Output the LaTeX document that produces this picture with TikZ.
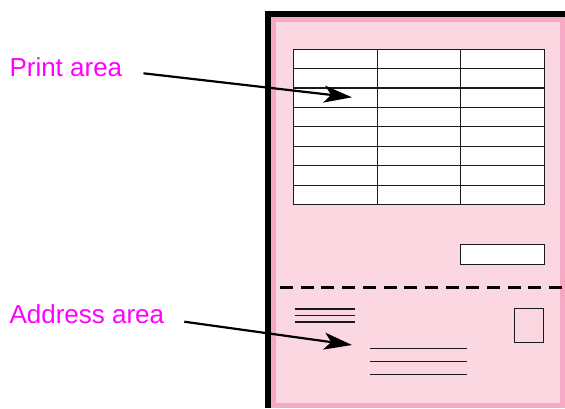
\documentclass[tikz,border=0pt]{standalone}
\usepackage{fontspec}
\setmainfont{Liberation Sans}
\usetikzlibrary{arrows.meta}
\definecolor{pagerim}{HTML}{F5A9C4}
\definecolor{pagefill}{HTML}{FAD7E1}
\definecolor{labelmag}{HTML}{FF00FF}
\definecolor{rule}{HTML}{1A1A1A}
\tikzset{
  label/.style={text=labelmag, inner sep=0pt, anchor=base west,
                font=\fontsize{26}{30}\selectfont},
  pointer/.style={line width=2.2pt, -{Stealth[length=28pt,width=17pt,inset=7pt]}},
  cell/.style={draw=rule, line width=1.1pt, fill=white},
  textrule/.style={draw=rule, line width=1.1pt},
  fold/.style={line width=3pt, dash pattern=on 13pt off 7.7pt},
}
\begin{document}
\begin{tikzpicture}[x=1pt,y=-1pt]
\useasboundingbox (0,0) rectangle (565,408);

% the sheet: rim and face
\fill[pagerim] (271,17) rectangle (565,408);
\fill[pagefill] (276,22) rectangle (560,403);
% heavy L-shaped edge
\fill[black] (265,11) rectangle (271,408);
\fill[black] (265,11) rectangle (565,17);

% table in the upper part of the sheet
\foreach \r in {0,...,7}{
  \foreach \c/\xa/\xb in {0/292.5/376.5,1/376.5/460,2/460/543.5}{
    \node[cell, minimum width={\xb-\xa}, minimum height=19.5pt, inner sep=0pt,
          anchor=north west] (cell-\r-\c) at (\xa,{48.5+19.45*\r}) {};
  }
}

% small box below the table
\node[cell, minimum width=84pt, minimum height=20pt, inner sep=0pt,
      anchor=north west] (smallbox) at (459.5,243.5) {};

% perforation
\coordinate (fold-l) at (280,287);
\coordinate (fold-r) at (565,287);
\draw[fold] (fold-l) -- (fold-r);

% return address lines
\foreach \y in {309,315.7,322}{
  \draw[textrule] (294.5,\y) -- (355,\y);
}
% stamp
\node[cell, fill=none, minimum width=28.5pt, minimum height=33.5pt, inner sep=0pt,
      anchor=north west] (stamp) at (514,308.3) {};
% recipient address lines
\foreach \y in {348.3,361.7,374.7}{
  \draw[textrule] (369.5,\y) -- (466.5,\y);
}

% labels and pointers
\node[label] (print) at (9.3,76) {Print area};
\node[label] (address) at (9.3,323.3) {Address area};
\coordinate (print-from) at (143.5,73.3);
\coordinate (print-to) at (352,97.3);
\coordinate (address-from) at (184.3,321.7);
\coordinate (address-to) at (352,345);
\draw[pointer] (print-from) -- (print-to);
\draw[pointer] (address-from) -- (address-to);
\end{tikzpicture}
\end{document}
